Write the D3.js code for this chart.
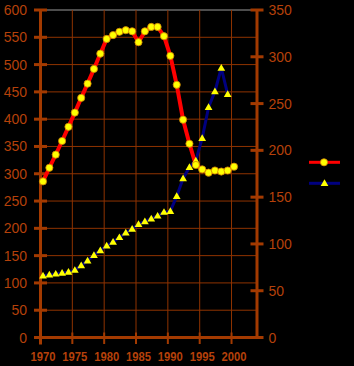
<!DOCTYPE html>
<html>
<head>
<meta charset="utf-8">
<script src="https://cdn.jsdelivr.net/npm/d3@7"></script>
<style>
  html, body { margin: 0; padding: 0; background: #000; }
  svg { display: block; }
  text { font-family: "Liberation Sans", Arial, sans-serif; }
</style>
</head>
<body>
<div id="container"></div>
<script>
var years = d3.range(1970, 2001);

// left axis series (circles)
var redValues = [286, 311, 335, 360, 386, 412, 439, 465, 492, 520,
                 547, 554, 560, 563, 561, 541, 561, 569, 569, 552,
                 516, 463, 399, 355, 316, 308, 302, 306, 304, 306, 313];

// right axis series (triangles), ends 1999
var blueValues = [66, 67, 68, 69, 70, 72, 77, 82, 88, 93,
                  98, 102, 107, 112, 116, 121, 124, 127, 130, 134,
                  135, 151, 170, 182, 189, 213, 246, 263, 288, 260];

var leftTicks = d3.range(0, 601, 50);
var rightTicks = d3.range(0, 351, 50);
var xTicks = [1970, 1975, 1980, 1985, 1990, 1995, 2000];

var width = 354,
    height = 366;

var axisColor = '#a33a00',
    gridColor = '#8f3300',
    labelColor = '#b5410a';

var svg = d3.select('#container').append('svg')
    .attr('width', width)
    .attr('height', height);

svg.append('rect').attr('width', width).attr('height', height).attr('fill', '#000');

var xScale = d3.scaleLinear().domain([1970, 2004]).range([40.5, 257]);
var yLeft = d3.scaleLinear().domain([0, 600]).range([337.5, 10]);
var yRight = d3.scaleLinear().domain([0, 350]).range([337.5, 10]);
var dx = 2.5;

// grid
svg.selectAll('.hgrid')
    .data(leftTicks.slice(1))
    .enter().append('line')
    .attr('x1', xScale(1970)).attr('x2', xScale(2004))
    .attr('y1', d => yLeft(d)).attr('y2', d => yLeft(d))
    .attr('stroke', d => d === 600 ? '#9a9a9a' : gridColor)
    .attr('stroke-width', 1);

svg.selectAll('.vgrid')
    .data(xTicks.slice(1))
    .enter().append('line')
    .attr('x1', d => xScale(d)).attr('x2', d => xScale(d))
    .attr('y1', yLeft(600)).attr('y2', yLeft(0))
    .attr('stroke', gridColor)
    .attr('stroke-width', 1);

// axes
svg.append('line')
    .attr('x1', xScale(1970)).attr('x2', xScale(1970))
    .attr('y1', yLeft(600) - 1).attr('y2', yLeft(0) + 7)
    .attr('stroke', axisColor).attr('stroke-width', 3);
svg.append('line')
    .attr('x1', xScale(2004)).attr('x2', xScale(2004))
    .attr('y1', yRight(350) - 1).attr('y2', yRight(0) + 1)
    .attr('stroke', axisColor).attr('stroke-width', 3);
svg.append('line')
    .attr('x1', xScale(1970) - 6).attr('x2', xScale(2004) + 1)
    .attr('y1', yLeft(0)).attr('y2', yLeft(0))
    .attr('stroke', axisColor).attr('stroke-width', 3);

svg.selectAll('.ltick')
    .data(leftTicks)
    .enter().append('line')
    .attr('x1', xScale(1970) - 6.5).attr('x2', xScale(1970) + 6.5)
    .attr('y1', d => yLeft(d)).attr('y2', d => yLeft(d))
    .attr('stroke', axisColor).attr('stroke-width', 3);

svg.selectAll('.rtick')
    .data(rightTicks)
    .enter().append('line')
    .attr('x1', xScale(2004) - 6.5).attr('x2', xScale(2004) + 6.5)
    .attr('y1', d => yRight(d)).attr('y2', d => yRight(d))
    .attr('stroke', axisColor).attr('stroke-width', 3);

svg.selectAll('.xtick')
    .data(xTicks.slice(1))
    .enter().append('line')
    .attr('x1', d => xScale(d)).attr('x2', d => xScale(d))
    .attr('y1', yLeft(0) - 5).attr('y2', yLeft(0) + 6.5)
    .attr('stroke', axisColor).attr('stroke-width', 2);

// labels
svg.selectAll('.llab')
    .data(leftTicks)
    .enter().append('text')
    .attr('x', 27).attr('y', d => yLeft(d) + 5)
    .attr('text-anchor', 'end')
    .attr('font-size', 14)
    .attr('fill', labelColor)
    .text(d => d);

svg.selectAll('.rlab')
    .data(rightTicks)
    .enter().append('text')
    .attr('x', 268.5).attr('y', d => yRight(d) + 5)
    .attr('text-anchor', 'start')
    .attr('font-size', 14)
    .attr('fill', labelColor)
    .text(d => d);

svg.selectAll('.xlab')
    .data(xTicks)
    .enter().append('text')
    .attr('x', d => xScale(d) + dx).attr('y', 361)
    .attr('text-anchor', 'middle')
    .attr('font-size', 12.5)
    .attr('font-weight', 'bold')
    .attr('textLength', 25)
    .attr('lengthAdjust', 'spacingAndGlyphs')
    .attr('fill', labelColor)
    .text(d => d);

// series
var redData = years.map((y, i) => ({ year: y, value: redValues[i] }));
var blueData = blueValues.map((v, i) => ({ year: years[i], value: v }));

var redLine = d3.line().x(d => xScale(d.year) + dx).y(d => yLeft(d.value));
var blueLine = d3.line().x(d => xScale(d.year) + dx).y(d => yRight(d.value));

svg.append('path')
    .attr('d', blueLine(blueData))
    .attr('fill', 'none')
    .attr('stroke', '#000080')
    .attr('stroke-width', 3);

svg.append('path')
    .attr('d', redLine(redData))
    .attr('fill', 'none')
    .attr('stroke', '#ff0000')
    .attr('stroke-width', 4);

var tri = d3.symbol().type(d3.symbolTriangle).size(26);

svg.selectAll('.tri')
    .data(blueData)
    .enter().append('path')
    .attr('d', tri)
    .attr('transform', d => `translate(${xScale(d.year) + dx},${yRight(d.value) + 0.5})`)
    .attr('fill', '#ffff00');

svg.selectAll('.dot')
    .data(redData)
    .enter().append('circle')
    .attr('cx', d => xScale(d.year) + dx)
    .attr('cy', d => yLeft(d.value))
    .attr('r', 3.6)
    .attr('fill', '#ffff00')
    .attr('stroke', '#d08000')
    .attr('stroke-width', 0.8);

// legend
var legend = svg.append('g');
legend.append('line')
    .attr('x1', 309).attr('x2', 340).attr('y1', 162.3).attr('y2', 162.3)
    .attr('stroke', '#ff0000').attr('stroke-width', 3);
legend.append('circle')
    .attr('cx', 324).attr('cy', 162.3).attr('r', 3.6)
    .attr('fill', '#ffff00').attr('stroke', '#d08000').attr('stroke-width', 0.8);
legend.append('line')
    .attr('x1', 309).attr('x2', 340).attr('y1', 183.3).attr('y2', 183.3)
    .attr('stroke', '#000080').attr('stroke-width', 3);
legend.append('path')
    .attr('d', tri)
    .attr('transform', 'translate(324.5,183.8)')
    .attr('fill', '#ffff00');
</script>
</body>
</html>
